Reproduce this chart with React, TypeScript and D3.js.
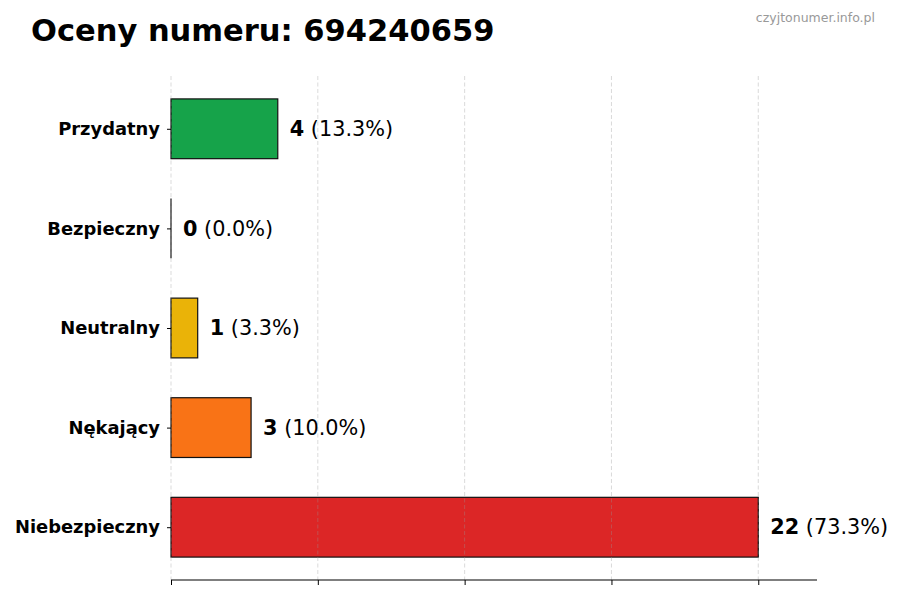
import React, { useEffect, useRef } from 'react';
import * as d3 from 'd3';

const categories = ['Przydatny', 'Bezpieczny', 'Neutralny', 'Nękający', 'Niebezpieczny'];
const counts = [4, 0, 1, 3, 22];
const colors = ['#16a34a', '#0ea5e9', '#eab308', '#f97316', '#dc2626'];
const title = 'Oceny numeru: 694240659';
const watermark = 'czyjtonumer.info.pl';

const W = 900;
const H = 600;
const font = '"DejaVu Sans", sans-serif';

const App = () => {
  const ref = useRef<SVGSVGElement | null>(null);

  useEffect(() => {
    if (!ref.current) return;
    const svg = d3.select(ref.current);
    svg.selectAll('*').remove();

    const left = 171, right = 817, top = 76, bottom = 580;
    const maxV = d3.max(counts)!;
    const total = d3.sum(counts);

    const x = d3.scaleLinear().domain([0, maxV * 1.1]).range([left, right]);
    // top category at index 0, bars 0.6 tall, matplotlib-like margins
    const y = d3.scaleLinear().domain([-0.53, categories.length - 1 + 0.53]).range([top, bottom]);
    const barH = y(0.6) - y(0);
    const xTicks = d3.range(0, 5).map((i) => (maxV / 4) * i);

    svg.append('rect').attr('width', W).attr('height', H).attr('fill', '#fff');

    // bars (zero-width ones still get their outline)
    const bars = svg.append('g');
    categories.forEach((_c, i) => {
      const w = x(counts[i]) - x(0);
      if (w > 0) {
        bars.append('rect')
          .attr('x', x(0))
          .attr('y', y(i) - barH / 2)
          .attr('width', w)
          .attr('height', barH)
          .attr('fill', colors[i])
          .attr('stroke', '#111')
          .attr('stroke-width', 1.2);
      } else {
        bars.append('line')
          .attr('x1', x(0))
          .attr('x2', x(0))
          .attr('y1', y(i) - barH / 2)
          .attr('y2', y(i) + barH / 2)
          .attr('stroke', '#111')
          .attr('stroke-width', 1.2);
      }
    });

    // grid
    svg.append('g')
      .selectAll('line')
      .data(xTicks)
      .enter()
      .append('line')
      .attr('x1', (d) => x(d))
      .attr('x2', (d) => x(d))
      .attr('y1', top)
      .attr('y2', bottom)
      .attr('stroke', 'rgba(150,150,150,0.4)')
      .attr('stroke-width', 0.9)
      .attr('stroke-dasharray', '4,2.5');

    // bottom axis
    const xAxis = d3.axisBottom(x).tickValues(xTicks).tickFormat(() => '').tickSizeOuter(0).tickSize(5);
    const gx = svg.append('g').attr('transform', `translate(0,${bottom})`).call(xAxis);
    gx.select('.domain').remove();
    gx.append('line').attr('x1', left).attr('x2', right).attr('stroke', '#000').attr('stroke-width', 1.1);
    gx.selectAll('.tick line').attr('stroke', '#000').attr('stroke-width', 1);

    // left ticks + labels
    const yAxis = d3.axisLeft(y).tickValues(d3.range(categories.length)).tickFormat((d) => categories[d as number]).tickSize(4).tickPadding(7);
    const gy = svg.append('g').attr('transform', `translate(${left},0)`).call(yAxis);
    gy.select('.domain').remove();
    gy.selectAll('.tick line').attr('stroke', '#000');
    gy.selectAll('.tick text')
      .attr('fill', '#000')
      .attr('font-family', font)
      .attr('font-weight', 'bold')
      .attr('font-size', 17.9);

    // value labels
    const lab = svg.append('g')
      .selectAll('text')
      .data(categories)
      .enter()
      .append('text')
      .attr('x', (_d, i) => x(counts[i]) + 12)
      .attr('y', (_d, i) => y(i))
      .attr('dy', '0.35em')
      .attr('font-family', font)
      .attr('font-size', 20.8)
      .attr('fill', '#000');
    lab.append('tspan').attr('font-weight', 'bold').text((_d, i) => `${counts[i]}`);
    lab.append('tspan').text((_d, i) => ` (${((counts[i] / total) * 100).toFixed(1)}%)`);

    // title & watermark
    svg.append('text')
      .attr('x', 31)
      .attr('y', 41)
      .attr('font-family', font)
      .attr('font-weight', 'bold')
      .attr('font-size', 30.5)
      .attr('fill', '#000')
      .text(title);

    svg.append('text')
      .attr('x', 875)
      .attr('y', 22)
      .attr('text-anchor', 'end')
      .attr('font-family', font)
      .attr('font-size', 12.5)
      .attr('fill', '#999')
      .text(watermark);
  }, []);

  return (
    <svg ref={ref} width={W} height={H} style={{ position: 'absolute', left: 0, top: 0 }} />
  );
};

export default App;
